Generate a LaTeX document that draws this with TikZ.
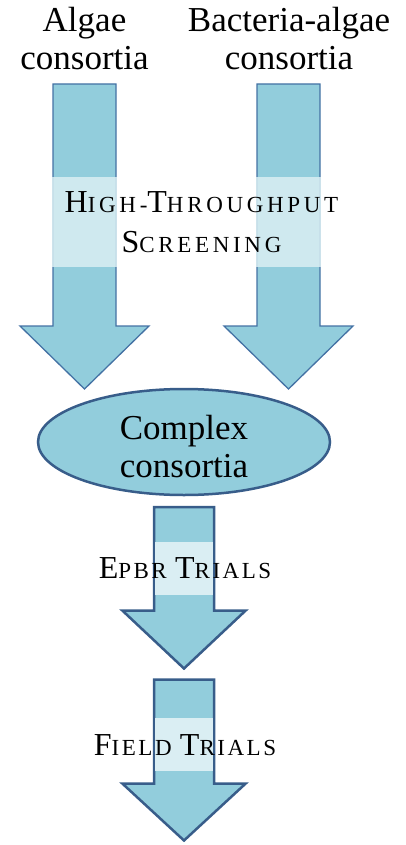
\documentclass[tikz,border=0pt]{standalone}
\usepackage{fontspec}
\usetikzlibrary{shapes.geometric}
\setmainfont{Liberation Serif}
\newfontfamily\gserif{Liberation Serif}
\definecolor{afill}{HTML}{92CDDC}
\definecolor{aband}{HTML}{DAEEF3}
\definecolor{aline}{HTML}{385D8A}
\definecolor{alinelt}{HTML}{4472A4}
\newcommand\capL[1]{{\fontsize{32}{40}\selectfont #1}}
\tikzset{
  toparrow/.style={draw=alinelt, line width=1.3pt, fill=afill, line join=miter},
  botarrow/.style={draw=aline, line width=2.5pt, fill=afill, line join=miter},
  topband/.style={fill=aband, opacity=0.85},
  botband/.style={fill=aband},
  lbl/.style={font={\gserif\fontsize{35}{38}\selectfont}, align=center, inner sep=0pt},
  sclbl/.style={font={\gserif\addfontfeature{LetterSpace=#1}\fontsize{23}{40}\selectfont}, align=center, inner sep=0pt}
}
\begin{document}
\begin{tikzpicture}[x=1pt,y=-1pt]
\useasboundingbox (0,0) rectangle (405,845);
% top arrows
\draw[toparrow] (53,84) -- (116,84) -- (116,326) -- (149,326) -- (84.5,389) -- (20,326) -- (53,326) -- cycle;
\draw[toparrow] (257,84) -- (320,84) -- (320,326) -- (353,326) -- (288.5,389) -- (224,326) -- (257,326) -- cycle;
\fill[topband] (52.3,177) rectangle (116.7,267);
\fill[topband] (256.3,177) rectangle (320.7,267);
\node[lbl] (algae) at (84.5,39) {Algae\\consortia};
\node[lbl] (bact) at (289,39) {Bacteria-algae\\consortia};
\node[sclbl=16] (hts) at (201.5,222.5) {\capL{H}IGH-\capL{T}HROUGHPUT\\\capL{S}CREENING};
% ellipse
\node[draw=aline, line width=2.5pt, fill=afill, ellipse, minimum width=292pt, minimum height=106pt, inner sep=0pt] (cc) at (184,442) {};
\node[lbl, font={\gserif\fontsize{35}{38.5}\selectfont}] (cctext) at (184,446.5) {Complex\\consortia};
% bottom arrows
\draw[botarrow] (154,507.2) -- (214,507.2) -- (214,610.5) -- (245.7,610.5) -- (184,668.5) -- (122.3,610.5) -- (154,610.5) -- cycle;
\fill[botband] (155.25,542) rectangle (212.75,595);
\node[sclbl=11] (epbr) at (185,568.5) {\capL{E}PBR \capL{T}RIALS};
\draw[botarrow] (154,679.5) -- (214,679.5) -- (214,783.5) -- (245.7,783.5) -- (184,840.5) -- (122.3,783.5) -- (154,783.5) -- cycle;
\fill[botband] (155.25,718) rectangle (212.75,771);
\node[sclbl=11] (field) at (185,745.5) {\capL{F}IELD \capL{T}RIALS};
\end{tikzpicture}
\end{document}
